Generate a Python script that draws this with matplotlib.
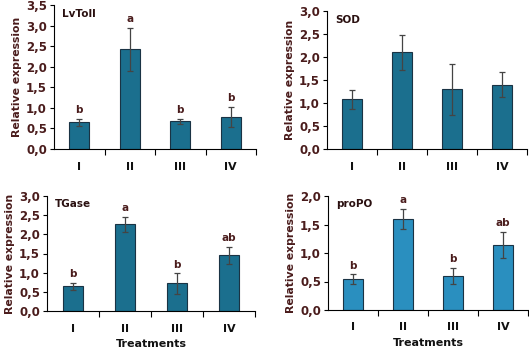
import numpy as np
import matplotlib
matplotlib.use("Agg")
from matplotlib import pyplot as plt

treatments = ["I", "II", "III", "IV"]

lvtoll = [0.65, 2.42, 0.67, 0.78]
lvtoll_err = [0.08, 0.52, 0.06, 0.24]
lvtoll_sig = ["b", "a", "b", "b"]

sod = [1.08, 2.10, 1.30, 1.40]
sod_err = [0.20, 0.38, 0.55, 0.28]
sod_sig = ["", "", "", ""]

tgase = [0.65, 2.26, 0.72, 1.45]
tgase_err = [0.09, 0.20, 0.27, 0.23]
tgase_sig = ["b", "a", "b", "ab"]

propo = [0.54, 1.60, 0.60, 1.14]
propo_err = [0.09, 0.18, 0.14, 0.23]
propo_sig = ["b", "a", "b", "ab"]

maroon = "#4a1c1c"

W, H = 529, 351
fig = plt.figure(figsize=(W / 100, H / 100), dpi=100)


def px_axes(left, right, top, bottom):
    return fig.add_axes([left / W, 1 - bottom / H, (right - left) / W, (bottom - top) / H])


panels = [
    # name, values, errors, letters, ymax, pixel box, colour
    ("LvToll", lvtoll, lvtoll_err, lvtoll_sig, 3.5, (54, 256, 5, 149), "#1b6f8e"),
    ("SOD", sod, sod_err, sod_sig, 3.0, (327, 527, 11, 149), "#1b6f8e"),
    ("TGase", tgase, tgase_err, tgase_sig, 3.0, (47, 255, 196, 311), "#1b6f8e"),
    ("proPO", propo, propo_err, propo_sig, 2.0, (328, 528, 196, 310), "#2a8fbf"),
]

x = np.arange(len(treatments))

for name, vals, errs, sig, ymax, box, col in panels:
    ax = px_axes(*box)
    ax.bar(x, vals, width=0.4, color=col, edgecolor="#1a3344", linewidth=0.8,
           yerr=errs, error_kw=dict(ecolor="#444444", elinewidth=0.9, capsize=2.5, capthick=0.9))
    for xi, v, e, s in zip(x, vals, errs, sig):
        if s:
            ax.text(xi, v + e + ymax * 0.03, s, ha="center", va="bottom",
                    fontsize=7.5, fontweight="bold", color=maroon)
    ax.set_xlim(-0.5, len(treatments) - 0.5)
    ax.set_ylim(0, ymax)
    yt = np.arange(0, ymax + 0.01, 0.5)
    ax.set_yticks(yt)
    ax.set_yticklabels([f"{t:.1f}".replace(".", ",") for t in yt],
                       fontsize=8.5, fontweight="bold", color=maroon)
    ax.set_xticks(x + 0.5, minor=False)
    ax.set_xticklabels([])
    ax.set_xticks(x, minor=True)
    ax.set_xticklabels(treatments, minor=True, fontsize=8, fontweight="bold", color="#111111")
    ax.tick_params(axis="x", which="major", length=4, width=0.8, direction="out")
    ax.tick_params(axis="x", which="minor", length=0, pad=9)
    ax.tick_params(axis="y", length=3, width=0.8, direction="out", pad=2)
    for sp in ["top", "right"]:
        ax.spines[sp].set_visible(False)
    for sp in ["left", "bottom"]:
        ax.spines[sp].set_linewidth(0.8)
    ax.set_ylabel("Relative expression", fontsize=7.8, fontweight="bold", color=maroon, labelpad=3)
    ax.text(0.04, 0.97, name, transform=ax.transAxes, ha="left", va="top",
            fontsize=7.5, fontweight="bold", color="#2a1010")
    if name in ("TGase", "proPO"):
        ax.set_xlabel("Treatments", fontsize=8, fontweight="bold", color="#111111", labelpad=4)

fig.savefig("out.png", dpi=100)
